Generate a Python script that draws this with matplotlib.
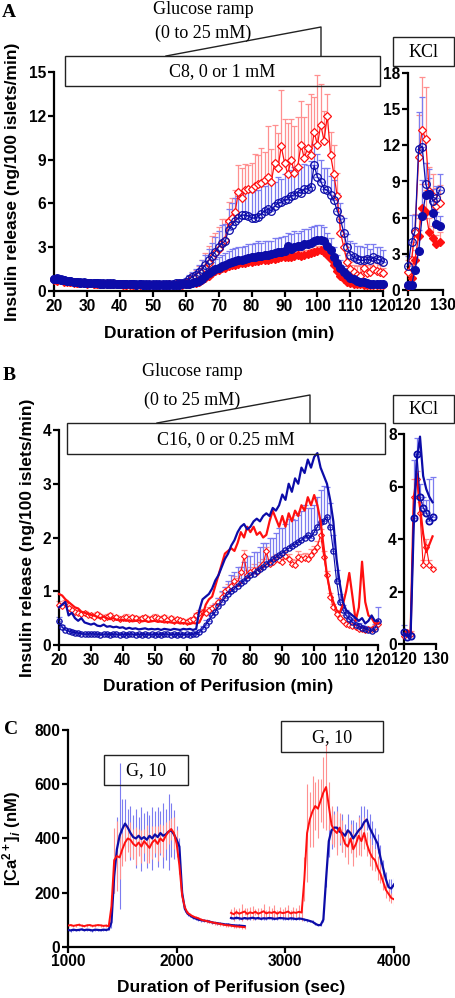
import numpy as np
import matplotlib
matplotlib.use("Agg")
import matplotlib.pyplot as plt
from matplotlib.patches import Rectangle

plt.rcParams['font.family'] = ['Liberation Sans', 'DejaVu Sans']
plt.rcParams['font.weight'] = 'bold'
plt.rcParams['axes.labelweight'] = 'bold'
plt.rcParams['mathtext.fontset'] = 'custom'
plt.rcParams['mathtext.rm'] = 'Liberation Sans:bold'
plt.rcParams['mathtext.it'] = 'Liberation Sans:bold:italic'
plt.rcParams['mathtext.bf'] = 'Liberation Sans:bold'

RED = '#ff1010'
RED_L = '#ff9090'
BLUE = '#0c0ca8'
BLUE_L = '#7c7cf0'

# ---------------- panel A data (min 20..120, KCl 120..129) ----------------
t_a = np.arange(20, 121)
a_red_open = [
    0.75, 0.70, 0.72, 0.65, 0.62, 0.60, 0.58, 0.55, 0.55, 0.52,
    0.50, 0.52, 0.50, 0.48, 0.50, 0.47, 0.48, 0.46, 0.47, 0.45,
    0.46, 0.45, 0.44, 0.45, 0.43, 0.44, 0.45, 0.43, 0.44, 0.42,
    0.43, 0.42, 0.44, 0.42, 0.43, 0.45, 0.44, 0.46, 0.48, 0.50,
    0.55, 0.70, 0.80, 0.95, 1.10, 1.30, 1.60, 1.90, 2.30, 2.60,
    2.90, 3.30, 3.50, 4.80, 5.00, 5.40, 6.80, 6.40, 6.90, 7.00,
    7.00, 7.20, 7.30, 7.40, 7.60, 7.80, 7.50, 8.80, 8.40, 9.90,
    8.80, 8.00, 9.00, 8.10, 8.50, 10.0, 9.10, 9.80, 9.30, 10.9,
    10.0, 11.4, 10.3, 12.0, 9.30, 8.00, 6.50, 4.00, 3.00, 2.00,
    1.50, 1.30, 1.10, 1.00, 1.60, 1.20, 1.30, 1.50, 1.40, 1.30,
    1.20]
a_red_open_err = [
    0.15, 0.12, 0.14, 0.12, 0.10, 0.12, 0.10, 0.11, 0.10, 0.10,
    0.10, 0.12, 0.10, 0.10, 0.11, 0.10, 0.10, 0.12, 0.10, 0.10,
    0.10, 0.10, 0.11, 0.10, 0.10, 0.10, 0.12, 0.10, 0.10, 0.10,
    0.10, 0.11, 0.10, 0.12, 0.10, 0.12, 0.14, 0.15, 0.18, 0.20,
    0.25, 0.35, 0.40, 0.50, 0.60, 0.80, 1.00, 1.20, 1.50, 1.40,
    1.50, 1.60, 1.40, 1.30, 1.40, 1.50, 1.80, 2.00, 1.80, 1.60,
    1.80, 2.20, 2.00, 2.40, 1.90, 3.50, 2.20, 2.60, 2.40, 3.90,
    3.00, 3.50, 2.80, 3.20, 3.40, 3.00, 2.80, 3.00, 4.20, 2.40,
    4.80, 2.80, 2.00, 1.50, 1.60, 2.00, 1.60, 1.20, 0.80, 0.60,
    0.50, 0.50, 0.60, 0.80, 0.70, 0.60, 0.50, 0.60, 0.50, 0.50,
    0.40]
a_blue_open = [
    0.85, 0.90, 0.80, 0.75, 0.70, 0.68, 0.65, 0.62, 0.60, 0.60,
    0.58, 0.56, 0.55, 0.55, 0.54, 0.53, 0.55, 0.52, 0.52, 0.50,
    0.50, 0.50, 0.49, 0.50, 0.48, 0.48, 0.49, 0.50, 0.47, 0.48,
    0.46, 0.47, 0.46, 0.48, 0.47, 0.50, 0.50, 0.52, 0.55, 0.58,
    0.65, 0.80, 0.95, 1.10, 1.30, 1.50, 1.80, 2.10, 2.40, 2.70,
    3.00, 3.30, 3.40, 4.20, 4.50, 4.80, 5.00, 5.20, 5.20, 5.15,
    5.00, 5.00, 5.10, 5.30, 5.50, 5.60, 5.50, 5.80, 6.00, 6.10,
    6.20, 6.30, 6.50, 6.60, 6.80, 6.70, 7.00, 7.00, 7.10, 8.60,
    7.80, 7.50, 7.00, 6.90, 6.60, 6.20, 5.50, 4.90, 4.00, 3.00,
    2.50, 2.30, 2.20, 2.10, 2.10, 2.20, 2.10, 2.30, 2.20, 2.10,
    2.00]
a_blue_open_err = [
    0.20, 0.18, 0.15, 0.15, 0.14, 0.15, 0.13, 0.14, 0.15, 0.13,
    0.14, 0.13, 0.12, 0.14, 0.13, 0.12, 0.14, 0.12, 0.13, 0.12,
    0.12, 0.13, 0.12, 0.12, 0.11, 0.12, 0.13, 0.12, 0.11, 0.12,
    0.11, 0.12, 0.11, 0.12, 0.12, 0.13, 0.14, 0.15, 0.17, 0.20,
    0.25, 0.30, 0.35, 0.40, 0.50, 0.60, 0.70, 0.80, 0.90, 1.00,
    1.10, 1.20, 1.20, 1.40, 1.50, 1.60, 1.50, 1.60, 1.70, 1.80,
    1.80, 1.90, 1.80, 1.90, 1.70, 1.80, 1.90, 1.70, 1.80, 1.60,
    1.80, 1.70, 1.80, 1.90, 1.60, 1.80, 1.70, 1.60, 1.80, 1.50,
    1.60, 1.50, 1.40, 1.50, 1.30, 1.40, 1.20, 1.10, 1.00, 0.90,
    0.90, 1.00, 0.90, 1.00, 0.90, 1.00, 0.80, 0.90, 0.80, 0.90,
    0.80]
a_blue_fill = [
    0.85, 0.80, 0.75, 0.72, 0.70, 0.66, 0.64, 0.60, 0.58, 0.56,
    0.55, 0.54, 0.53, 0.52, 0.50, 0.50, 0.49, 0.48, 0.48, 0.47,
    0.47, 0.46, 0.46, 0.45, 0.45, 0.44, 0.45, 0.44, 0.43, 0.44,
    0.43, 0.42, 0.43, 0.42, 0.42, 0.43, 0.42, 0.44, 0.43, 0.45,
    0.47, 0.50, 0.55, 0.60, 0.70, 0.85, 1.00, 1.20, 1.35, 1.50,
    1.60, 1.70, 1.80, 1.90, 2.00, 2.05, 2.10, 2.15, 2.20, 2.25,
    2.30, 2.35, 2.40, 2.40, 2.45, 2.50, 2.55, 2.60, 2.65, 2.70,
    2.75, 3.10, 2.90, 3.00, 3.05, 3.10, 3.20, 3.25, 3.30, 3.40,
    3.50, 3.50, 3.40, 3.10, 2.80, 2.30, 1.90, 1.60, 1.30, 1.10,
    0.90, 0.80, 0.70, 0.65, 0.60, 0.55, 0.50, 0.50, 0.48, 0.47,
    0.45]
a_blue_fill_err = [
    0.10, 0.10, 0.09, 0.09, 0.08, 0.08, 0.08, 0.08, 0.07, 0.07,
    0.07, 0.07, 0.06, 0.07, 0.06, 0.06, 0.07, 0.06, 0.06, 0.06,
    0.06, 0.06, 0.06, 0.05, 0.06, 0.05, 0.06, 0.05, 0.05, 0.06,
    0.05, 0.05, 0.06, 0.05, 0.05, 0.06, 0.06, 0.07, 0.08, 0.09,
    0.10, 0.15, 0.20, 0.30, 0.40, 0.50, 0.55, 0.60, 0.65, 0.70,
    0.75, 0.80, 0.80, 0.85, 0.85, 0.90, 0.90, 0.85, 0.90, 0.95,
    0.90, 0.95, 1.00, 0.90, 1.00, 0.95, 0.90, 1.00, 0.95, 1.00,
    1.00, 0.90, 1.00, 1.10, 0.95, 1.00, 1.05, 1.00, 1.10, 1.05,
    1.00, 1.00, 0.95, 0.90, 0.85, 0.70, 0.60, 0.50, 0.40, 0.30,
    0.25, 0.20, 0.15, 0.12, 0.10, 0.10, 0.10, 0.10, 0.10, 0.10,
    0.10]
a_red_fill = [
    0.80, 0.75, 0.72, 0.70, 0.66, 0.63, 0.60, 0.58, 0.55, 0.54,
    0.53, 0.52, 0.50, 0.50, 0.49, 0.48, 0.47, 0.47, 0.46, 0.45,
    0.45, 0.44, 0.44, 0.43, 0.43, 0.42, 0.42, 0.43, 0.41, 0.42,
    0.41, 0.40, 0.41, 0.40, 0.40, 0.41, 0.40, 0.42, 0.41, 0.43,
    0.45, 0.48, 0.52, 0.58, 0.65, 0.75, 0.90, 1.05, 1.20, 1.35,
    1.45, 1.55, 1.60, 1.70, 1.75, 1.80, 1.85, 1.90, 1.95, 2.00,
    2.00, 2.05, 2.05, 2.10, 2.10, 2.15, 2.20, 2.20, 2.25, 2.30,
    2.30, 2.35, 2.30, 2.40, 2.45, 2.40, 2.50, 2.55, 2.60, 2.65,
    2.75, 2.80, 2.70, 2.50, 2.20, 1.80, 1.40, 1.00, 0.80, 0.65,
    0.55, 0.50, 0.45, 0.45, 0.40, 0.42, 0.40, 0.40, 0.38, 0.40,
    0.38]
a_red_fill_err = [
    0.08, 0.08, 0.07, 0.07, 0.06, 0.06, 0.06, 0.05, 0.05, 0.05,
    0.05, 0.05, 0.05, 0.05, 0.05, 0.05, 0.05, 0.05, 0.05, 0.05,
    0.05, 0.05, 0.05, 0.05, 0.05, 0.05, 0.05, 0.05, 0.05, 0.05,
    0.05, 0.05, 0.05, 0.05, 0.05, 0.05, 0.05, 0.05, 0.05, 0.06,
    0.06, 0.08, 0.10, 0.12, 0.15, 0.18, 0.20, 0.22, 0.25, 0.28,
    0.30, 0.30, 0.32, 0.30, 0.28, 0.30, 0.32, 0.30, 0.28, 0.30,
    0.30, 0.28, 0.30, 0.32, 0.30, 0.28, 0.30, 0.32, 0.30, 0.28,
    0.30, 0.32, 0.30, 0.28, 0.30, 0.32, 0.30, 0.28, 0.30, 0.32,
    0.30, 0.28, 0.25, 0.22, 0.20, 0.18, 0.15, 0.12, 0.10, 0.10,
    0.08, 0.08, 0.07, 0.07, 0.06, 0.06, 0.06, 0.06, 0.06, 0.06,
    0.06]

t_k = np.arange(120, 130)
ka_blue_open = [2.0, 4.0, 4.9, 11.7, 11.9, 8.8, 8.0, 7.4, 7.6, 8.3]
ka_blue_open_err = [0.8, 2.2, 1.3, 3.1, 4.1, 1.7, 1.3, 1.0, 1.0, 1.3]
ka_red_open = [1.5, 2.5, 4.8, 11.0, 13.3, 12.5, 8.2, 7.8, 7.0, 7.2]
ka_red_open_err = [1.0, 1.5, 1.5, 3.5, 4.4, 4.3, 2.0, 1.8, 1.5, 1.5]
ka_blue_fill = [0.4, 0.4, 1.7, 3.2, 6.1, 7.9, 8.0, 6.4, 5.5, 5.3]
ka_blue_fill_err = [0.3, 0.3, 1.0, 1.8, 3.0, 2.6, 2.0, 1.3, 1.0, 0.8]
ka_red_fill = [0.3, 1.0, 2.5, 4.5, 6.8, 6.5, 4.8, 4.3, 3.8, 4.0]
ka_red_fill_err = [0.3, 0.5, 0.8, 1.5, 2.0, 1.8, 1.2, 1.0, 0.8, 0.8]

# ---------------- panel B data ----------------
t_b = np.arange(20, 121)
b_blue_line = [
    0.70, 0.75, 0.80, 0.55, 0.60, 0.50, 0.45, 0.50, 0.42, 0.40,
    0.38, 0.40, 0.36, 0.35, 0.38, 0.34, 0.35, 0.33, 0.34, 0.32,
    0.33, 0.30, 0.32, 0.30, 0.31, 0.29, 0.30, 0.31, 0.29, 0.30,
    0.29, 0.30, 0.28, 0.30, 0.29, 0.28, 0.30, 0.29, 0.28, 0.30,
    0.29, 0.30, 0.28, 0.30, 0.65, 0.85, 0.90, 0.95, 1.05, 1.20,
    1.30, 1.45, 1.60, 1.70, 1.85, 1.95, 2.10, 2.20, 2.25, 2.15,
    2.20, 2.30, 2.35, 2.30, 2.40, 2.45, 2.40, 2.55, 2.50, 2.60,
    2.80, 2.70, 3.00, 2.85, 3.10, 3.00, 3.30, 3.20, 3.45, 3.30,
    3.50, 3.57, 3.30, 3.15, 3.00, 2.70, 2.30, 1.60, 1.15, 0.80,
    0.65, 0.60, 0.55, 0.50, 0.45, 0.50, 0.40, 0.45, 0.55, 0.45,
    0.45]
b_red_line = [
    0.95, 0.92, 0.85, 0.80, 0.75, 0.70, 0.68, 0.62, 0.60, 0.58,
    0.56, 0.55, 0.52, 0.50, 0.53, 0.50, 0.48, 0.50, 0.47, 0.46,
    0.47, 0.45, 0.46, 0.44, 0.45, 0.46, 0.44, 0.45, 0.43, 0.44,
    0.45, 0.43, 0.44, 0.42, 0.43, 0.42, 0.41, 0.42, 0.40, 0.41,
    0.40, 0.39, 0.41, 0.40, 0.42, 0.55, 0.75, 0.85, 0.90, 1.10,
    1.30, 1.50, 1.70, 1.75, 1.80, 1.75, 1.90, 2.10, 2.00, 2.20,
    2.10, 2.20, 2.05, 2.10, 2.00, 2.05, 2.30, 2.50, 2.35, 2.20,
    2.40, 2.20, 2.45, 2.30, 2.50, 2.40, 2.60, 2.50, 2.75, 2.60,
    2.79, 2.60, 2.30, 1.80, 1.30, 1.00, 0.80, 0.65, 0.60, 0.75,
    1.00, 1.34, 0.90, 0.45, 0.70, 1.55, 0.80, 0.55, 0.50, 0.40,
    0.40]
b_red_dia = [
    0.75, 0.72, 0.78, 0.68, 0.65, 0.62, 0.60, 0.58, 0.60, 0.55,
    0.56, 0.52, 0.58, 0.54, 0.50, 0.53, 0.55, 0.50, 0.52, 0.48,
    0.50, 0.53, 0.49, 0.52, 0.50, 0.47, 0.50, 0.52, 0.48, 0.50,
    0.53, 0.50, 0.48, 0.52, 0.47, 0.50, 0.45, 0.48, 0.46, 0.45,
    0.43, 0.46, 0.48, 0.55, 0.60, 0.62, 0.60, 0.65, 0.68, 0.72,
    0.80, 0.90, 1.00, 1.05, 1.10, 1.20, 1.15, 1.35, 1.65, 1.30,
    1.35, 1.40, 1.35, 1.45, 1.50, 1.75, 1.50, 1.55, 1.60, 1.58,
    1.55, 1.65, 1.60, 1.50, 1.48, 1.64, 1.60, 1.62, 1.60, 1.68,
    1.75, 1.83, 2.05, 1.64, 1.30, 0.90, 0.70, 0.58, 0.50, 0.45,
    0.40, 0.38, 0.35, 0.33, 0.30, 0.30, 0.28, 0.30, 0.30, 0.33,
    0.40]
b_red_dia_err = [
    0.06, 0.05, 0.05, 0.04, 0.04, 0.04, 0.04, 0.04, 0.04, 0.04,
    0.04, 0.04, 0.04, 0.04, 0.04, 0.04, 0.04, 0.04, 0.04, 0.04,
    0.04, 0.04, 0.04, 0.04, 0.04, 0.04, 0.04, 0.04, 0.04, 0.04,
    0.04, 0.04, 0.04, 0.04, 0.04, 0.04, 0.04, 0.04, 0.04, 0.04,
    0.04, 0.04, 0.04, 0.05, 0.05, 0.05, 0.06, 0.06, 0.06, 0.07,
    0.07, 0.08, 0.08, 0.08, 0.09, 0.09, 0.10, 0.10, 0.12, 0.10,
    0.10, 0.10, 0.10, 0.10, 0.10, 0.08, 0.10, 0.10, 0.10, 0.10,
    0.10, 0.10, 0.10, 0.10, 0.10, 0.10, 0.10, 0.10, 0.10, 0.10,
    0.10, 0.10, 0.10, 0.10, 0.08, 0.07, 0.06, 0.05, 0.05, 0.05,
    0.04, 0.04, 0.04, 0.04, 0.04, 0.04, 0.04, 0.04, 0.04, 0.04,
    0.04]
b_blue_circ = [
    0.45, 0.33, 0.28, 0.26, 0.24, 0.23, 0.22, 0.21, 0.20, 0.20,
    0.21, 0.20, 0.20, 0.19, 0.20, 0.20, 0.19, 0.20, 0.20, 0.19,
    0.20, 0.19, 0.20, 0.20, 0.19, 0.20, 0.19, 0.20, 0.19, 0.20,
    0.19, 0.20, 0.19, 0.20, 0.20, 0.19, 0.20, 0.19, 0.20, 0.19,
    0.20, 0.19, 0.20, 0.21, 0.24, 0.30, 0.38, 0.45, 0.55, 0.62,
    0.72, 0.80, 0.88, 0.95, 1.00, 1.05, 1.10, 1.15, 1.20, 1.25,
    1.30, 1.33, 1.38, 1.42, 1.45, 1.50, 1.55, 1.60, 1.63, 1.68,
    1.72, 1.76, 1.80, 1.85, 1.88, 1.92, 1.95, 2.00, 2.05, 2.00,
    2.10, 2.20, 2.29, 2.30, 2.39, 2.20, 1.75, 1.20, 0.80, 0.65,
    0.55, 0.48, 0.42, 0.38, 0.35, 0.32, 0.30, 0.28, 0.26, 0.30,
    0.45]
b_blue_circ_err = [
    0.08, 0.05, 0.04, 0.03, 0.03, 0.02, 0.02, 0.02, 0.02, 0.02,
    0.02, 0.02, 0.02, 0.02, 0.02, 0.02, 0.02, 0.02, 0.02, 0.02,
    0.02, 0.02, 0.02, 0.02, 0.02, 0.02, 0.02, 0.02, 0.02, 0.02,
    0.02, 0.02, 0.02, 0.02, 0.02, 0.02, 0.02, 0.02, 0.02, 0.02,
    0.02, 0.02, 0.02, 0.03, 0.04, 0.06, 0.08, 0.10, 0.12, 0.15,
    0.15, 0.20, 0.20, 0.25, 0.30, 0.30, 0.35, 0.30, 0.35, 0.40,
    0.35, 0.40, 0.35, 0.40, 0.45, 0.40, 0.45, 0.40, 0.45, 0.50,
    0.45, 0.50, 0.55, 0.50, 0.45, 0.50, 0.55, 0.60, 0.50, 0.55,
    0.50, 0.55, 0.60, 0.65, 0.55, 0.45, 0.30, 0.20, 0.15, 0.10,
    0.10, 0.08, 0.08, 0.06, 0.06, 0.05, 0.05, 0.05, 0.05, 0.10,
    0.25]

kb_blue_circ = [0.44, 0.28, 0.30, 4.80, 7.25, 5.60, 5.20, 5.00, 4.70, 4.85]
kb_blue_circ_err = [0.30, 0.10, 0.10, 2.20, 0.60, 0.50, 0.40, 0.50, 1.60, 1.50]
kb_blue_line = [0.40, 0.30, 0.30, 4.50, 7.00, 7.90, 6.40, 5.90, 5.60, 5.40]
kb_red_dia = [0.30, 0.45, 0.40, 5.60, 6.30, 5.00, 3.00, 3.70, 3.00, 2.85]
kb_red_dia_err = [0.10, 0.10, 0.10, 0.70, 0.30, 0.40, 0.20, 0.30, 0.20, 0.10]
kb_red_line = [0.30, 0.50, 0.40, 5.50, 6.50, 5.20, 4.20, 3.50, 3.80, 4.10]

# ---------------- panel C data (sec, 25 s steps) ----------------
t_c1 = np.arange(1000, 2650, 25)
c1_blue = [
    62, 60, 63, 61, 62, 64, 61, 63, 62, 60, 63, 62, 61, 63, 62, 64,
    90, 260, 360, 410, 435, 455, 440, 420, 405, 400,
    410, 398, 405, 395, 410, 400, 415, 405, 420, 410,
    415, 425, 430, 415, 395, 370, 200, 140, 122, 115,
    108, 104, 100, 98, 96, 95, 93, 90, 88, 87,
    85, 84, 82, 82, 80, 79, 78, 78, 77, 76]
c1_blue_err = [
    4, 4, 4, 4, 4, 4, 4, 4, 4, 4, 4, 4, 4, 4, 4, 4,
    20, 60, 120, 270, 110, 90, 70, 100, 80, 110,
    70, 120, 90, 105, 75, 115, 85, 110, 80, 120,
    95, 140, 100, 90, 50, 30, 20, 10, 8, 6,
    6, 5, 5, 5, 5, 5, 5, 5, 5, 5,
    5, 5, 5, 5, 5, 5, 5, 5, 5, 5]
c1_red = [
    78, 80, 77, 79, 81, 78, 76, 79, 80, 77, 78, 80, 79, 77, 78, 76,
    150, 320, 335, 330, 360, 385, 400, 395, 380, 372,
    385, 370, 390, 378, 365, 385, 395, 380, 400, 390,
    410, 425, 435, 420, 380, 300, 190, 145, 125, 118,
    112, 108, 105, 100, 97, 95, 92, 90, 88, 86,
    84, 82, 80, 79, 78, 76, 75, 74, 73, 72]
c1_red_err = [
    5, 5, 5, 5, 5, 5, 5, 5, 5, 5, 5, 5, 5, 5, 5, 5,
    40, 120, 130, 80, 60, 70, 50, 65, 55, 70,
    50, 60, 45, 70, 55, 60, 50, 65, 55, 60,
    50, 45, 40, 60, 50, 30, 20, 6, 6, 6,
    6, 6, 6, 6, 6, 6, 6, 6, 6, 6,
    6, 6, 6, 6, 6, 6, 6, 6, 6, 6]

t_c2 = np.arange(2500, 4001, 25)
c2_blue = [
    106, 104, 107, 105, 103, 106, 104, 105, 107, 104, 106, 103, 105, 104,
    106, 105, 103, 104, 106, 105, 104, 103, 105, 104, 102, 104, 103,
    100, 98, 95, 92, 85, 80, 80, 100, 250, 390,
    430, 440, 440, 425, 420, 410, 430, 420, 400, 415,
    430, 440, 460, 470, 440, 420, 400, 380, 330, 290,
    250, 220, 215, 230]
c2_blue_err = [
    5, 5, 5, 5, 5, 5, 5, 5, 5, 5, 5, 5, 5, 5,
    5, 5, 5, 5, 5, 5, 5, 5, 5, 5, 5, 5, 5,
    5, 5, 5, 5, 5, 5, 5, 10, 30, 60,
    70, 60, 80, 50, 70, 45, 60, 50, 70, 45,
    55, 80, 60, 40, 50, 45, 40, 35, 45, 30,
    25, 30, 35, 25]
c2_red = [
    125, 120, 128, 122, 126, 130, 121, 127, 124, 129, 122, 126, 131, 123,
    127, 125, 129, 122, 128, 124, 126, 130, 123, 127, 125, 129, 126,
    250, 420, 470, 500, 520, 510, 540, 570, 590, 520,
    450, 430, 420, 440, 410, 380, 370, 400, 360, 380,
    410, 390, 420, 380, 350, 330, 320, 290, 270, 240,
    210, 195, 180, 175]
c2_red_err = [
    15, 25, 12, 20, 30, 14, 22, 18, 25, 12, 20, 16, 28, 14,
    22, 18, 24, 15, 20, 17, 22, 25, 14, 20, 18, 24, 30,
    80, 180, 100, 130, 90, 110, 80, 130, 160, 90,
    70, 60, 80, 55, 60, 50, 65, 55, 60, 50,
    70, 55, 60, 45, 50, 45, 40, 45, 35, 30,
    30, 25, 20, 20]

W, H = 456, 998
fig = plt.figure(figsize=(W / 100, H / 100), dpi=100)


def px_axes(l, t, r, b):
    return fig.add_axes([l / W, 1 - b / H, (r - l) / W, (b - t) / H])


def style(ax, fs=11.2):
    for s in ['top', 'right']:
        ax.spines[s].set_visible(False)
    for s in ['left', 'bottom']:
        ax.spines[s].set_linewidth(1.6)
    ax.tick_params(width=1.6, length=4, labelsize=fs, pad=1.5)
    for lab in ax.get_xticklabels() + ax.get_yticklabels():
        lab.set_fontweight('bold')


def up_err(ax, x, y, e, c, cap=2.5):
    ax.errorbar(x, y, yerr=[np.zeros(len(e)), e], fmt='none', ecolor=c,
                elinewidth=0.9, capsize=cap, capthick=0.9, zorder=1, clip_on=False)


# ---- panel A ----
axA = px_axes(54, 72, 383.3, 291)
up_err(axA, t_a, a_red_open, a_red_open_err, RED_L)
up_err(axA, t_a, a_blue_open, a_blue_open_err, BLUE_L)
up_err(axA, t_a, a_red_fill, a_red_fill_err, RED_L)
up_err(axA, t_a, a_blue_fill, a_blue_fill_err, BLUE_L)
axA.plot(t_a, a_red_open, color=RED, lw=0.9, marker='D', ms=4, mfc='white', mec=RED, mew=0.9, zorder=3, clip_on=False)
axA.plot(t_a, a_blue_open, color=BLUE, lw=0.9, marker='o', ms=5.5, mfc='none', mec=BLUE, mew=0.9, zorder=4, clip_on=False)
axA.plot(t_a, a_red_fill, color=RED, lw=0.9, marker='D', ms=4, mfc=RED, mec=RED, zorder=5, clip_on=False)
axA.plot(t_a, a_blue_fill, color=BLUE, lw=0.9, marker='o', ms=5.5, mfc=BLUE, mec=BLUE, zorder=6, clip_on=False)
axA.set_xlim(20, 120)
axA.set_ylim(0, 15)
axA.set_xticks(range(20, 121, 10))
axA.set_yticks(range(0, 16, 3))
style(axA)
axA.set_xlabel('Duration of Perifusion (min)', fontsize=12.5, labelpad=9)
axA.set_ylabel('Insulin release (ng/100 islets/min)', fontsize=12.5)
axA.yaxis.set_label_coords(-0.104, 0.5)

axAk = px_axes(408, 73, 443.3, 290)
up_err(axAk, t_k, ka_red_open, ka_red_open_err, RED_L, 2)
up_err(axAk, t_k, ka_blue_open, ka_blue_open_err, BLUE_L, 2)
up_err(axAk, t_k, ka_red_fill, ka_red_fill_err, RED_L, 2)
up_err(axAk, t_k, ka_blue_fill, ka_blue_fill_err, BLUE_L, 2)
axAk.plot(t_k, ka_red_open, color=RED, lw=0.9, marker='D', ms=4, mfc='white', mec=RED, mew=0.9, zorder=3, clip_on=False)
axAk.plot(t_k, ka_blue_open, color=BLUE, lw=0.9, marker='o', ms=5.5, mfc='none', mec=BLUE, mew=0.9, zorder=4, clip_on=False)
axAk.plot(t_k, ka_red_fill, color=RED, lw=0.9, marker='D', ms=4, mfc=RED, mec=RED, zorder=5, clip_on=False)
axAk.plot(t_k, ka_blue_fill, color=BLUE, lw=0.9, marker='o', ms=5.5, mfc=BLUE, mec=BLUE, zorder=6, clip_on=False)
axAk.set_xlim(120, 130)
axAk.set_ylim(0, 18)
axAk.set_xticks([120, 130])
axAk.set_yticks(range(0, 19, 3))
style(axAk)

# ---- panel B ----
axB = px_axes(59, 430, 378, 645)
up_err(axB, t_b, b_red_dia, b_red_dia_err, RED_L, 2)
up_err(axB, t_b, b_blue_circ, b_blue_circ_err, BLUE_L, 2)
axB.plot(t_b, b_red_dia, color=RED, lw=0.8, marker='D', ms=3, mfc='white', mec=RED, mew=0.8, zorder=3, clip_on=False)
axB.plot(t_b, b_blue_circ, color=BLUE, lw=0.8, marker='o', ms=3.8, mfc='none', mec=BLUE, mew=0.9, zorder=4, clip_on=False)
axB.plot(t_b, b_red_line, color=RED, lw=1.6, zorder=5, clip_on=False)
axB.plot(t_b, b_blue_line, color=BLUE, lw=1.6, zorder=6, clip_on=False)
axB.set_xlim(20, 120)
axB.set_ylim(0, 4)
axB.set_xticks(range(20, 121, 10))
axB.set_yticks(range(0, 5))
style(axB)
axB.set_xlabel('Duration of Perifusion (min)', fontsize=12.5, labelpad=8)
axB.set_ylabel('Insulin release (ng/100 islets/min)', fontsize=12.5)
axB.yaxis.set_label_coords(-0.076, 0.5)

axBk = px_axes(404.3, 434, 435.7, 644)
up_err(axBk, t_k, kb_red_dia, kb_red_dia_err, RED_L, 2)
up_err(axBk, t_k, kb_blue_circ, kb_blue_circ_err, BLUE_L, 2)
axBk.plot(t_k, kb_red_dia, color=RED, lw=0.8, marker='D', ms=3, mfc='white', mec=RED, mew=0.8, zorder=3, clip_on=False)
axBk.plot(t_k, kb_red_line, color=RED, lw=1.6, zorder=4, clip_on=False)
axBk.plot(t_k, kb_blue_line, color=BLUE, lw=1.6, zorder=5, clip_on=False)
axBk.plot(t_k, kb_blue_circ, color=BLUE, lw=0.9, marker='o', ms=4.5, mfc='none', mec=BLUE, mew=1.3, zorder=6, clip_on=False)
axBk.set_xlim(120, 130)
axBk.set_ylim(0, 8)
axBk.set_xticks([120, 130])
axBk.set_yticks(range(0, 9, 2))
style(axBk)

# ---- panel C ----
axC = px_axes(68, 730.2, 394, 946.7)
for t, y, e, c in [(t_c1, c1_blue, c1_blue_err, BLUE_L), (t_c2, c2_blue, c2_blue_err, BLUE_L),
                   (t_c1, c1_red, c1_red_err, RED_L), (t_c2, c2_red, c2_red_err, RED_L)]:
    axC.errorbar(t, y, yerr=e, fmt='none', ecolor=c, elinewidth=0.8, capsize=0, zorder=1)
axC.plot(t_c1, c1_blue, color=BLUE, lw=1.6, zorder=3)
axC.plot(t_c2, c2_blue, color=BLUE, lw=1.6, zorder=3)
axC.plot(t_c1, c1_red, color=RED, lw=1.4, zorder=4)
axC.plot(t_c2, c2_red, color=RED, lw=1.4, zorder=4)
axC.set_xlim(1000, 4000)
axC.set_ylim(0, 800)
axC.set_xticks(range(1000, 4001, 1000))
axC.set_yticks(range(0, 801, 200))
style(axC)
axC.set_xlabel('Duration of Perifusion (sec)', fontsize=12.5, labelpad=8)
axC.set_ylabel(r'[Ca$^{2+}$]$_{i}$ (nM)', fontsize=12)
axC.yaxis.set_label_coords(-0.138, 0.5)

# ---- annotation overlay (pixel coords) ----
ov = fig.add_axes([0, 0, 1, 1], facecolor='none')
ov.set_xlim(0, W)
ov.set_ylim(H, 0)
ov.axis('off')
serif = ['Liberation Serif', 'DejaVu Serif']


def box(l, t, r, b, txt):
    ov.add_patch(Rectangle((l, t), r - l, b - t, fill=False, ec='#222222', lw=1.0))
    ov.text((l + r) / 2, (t + b) / 2 + 1, txt, ha='center', va='center',
            family=serif, fontsize=13, fontweight='normal')


def ramp(x0, y0, x1, y1):
    ov.plot([x0, x1, x1], [y0, y1, y0], color='#222222', lw=1.0)


for lab, x, y in [('A', 9, 12), ('B', 9, 376), ('C', 11, 729)]:
    ov.text(x, y, lab, ha='center', va='center', family=serif, fontsize=14, fontweight='bold')

ov.text(203, 9, 'Glucose ramp', ha='center', va='center', family=serif, fontsize=13, fontweight='normal')
ov.text(203, 33, '(0 to 25 mM)', ha='center', va='center', family=serif, fontsize=13, fontweight='normal')
ramp(166, 56, 321, 27)
box(65, 56, 380, 86, 'C8, 0 or 1 mM')
box(393, 37, 454, 66, 'KCl')

ov.text(192, 372, 'Glucose ramp', ha='center', va='center', family=serif, fontsize=13, fontweight='normal')
ov.text(192, 400, '(0 to 25 mM)', ha='center', va='center', family=serif, fontsize=13, fontweight='normal')
ramp(157, 423, 310, 395)
box(67, 423, 385, 454, 'C16, 0 or 0.25 mM')
box(393, 395, 454, 423, 'KCl')

box(104, 755, 188, 785, 'G, 10')
box(281, 721, 383, 752, 'G, 10')

fig.savefig('out.png', dpi=100)
